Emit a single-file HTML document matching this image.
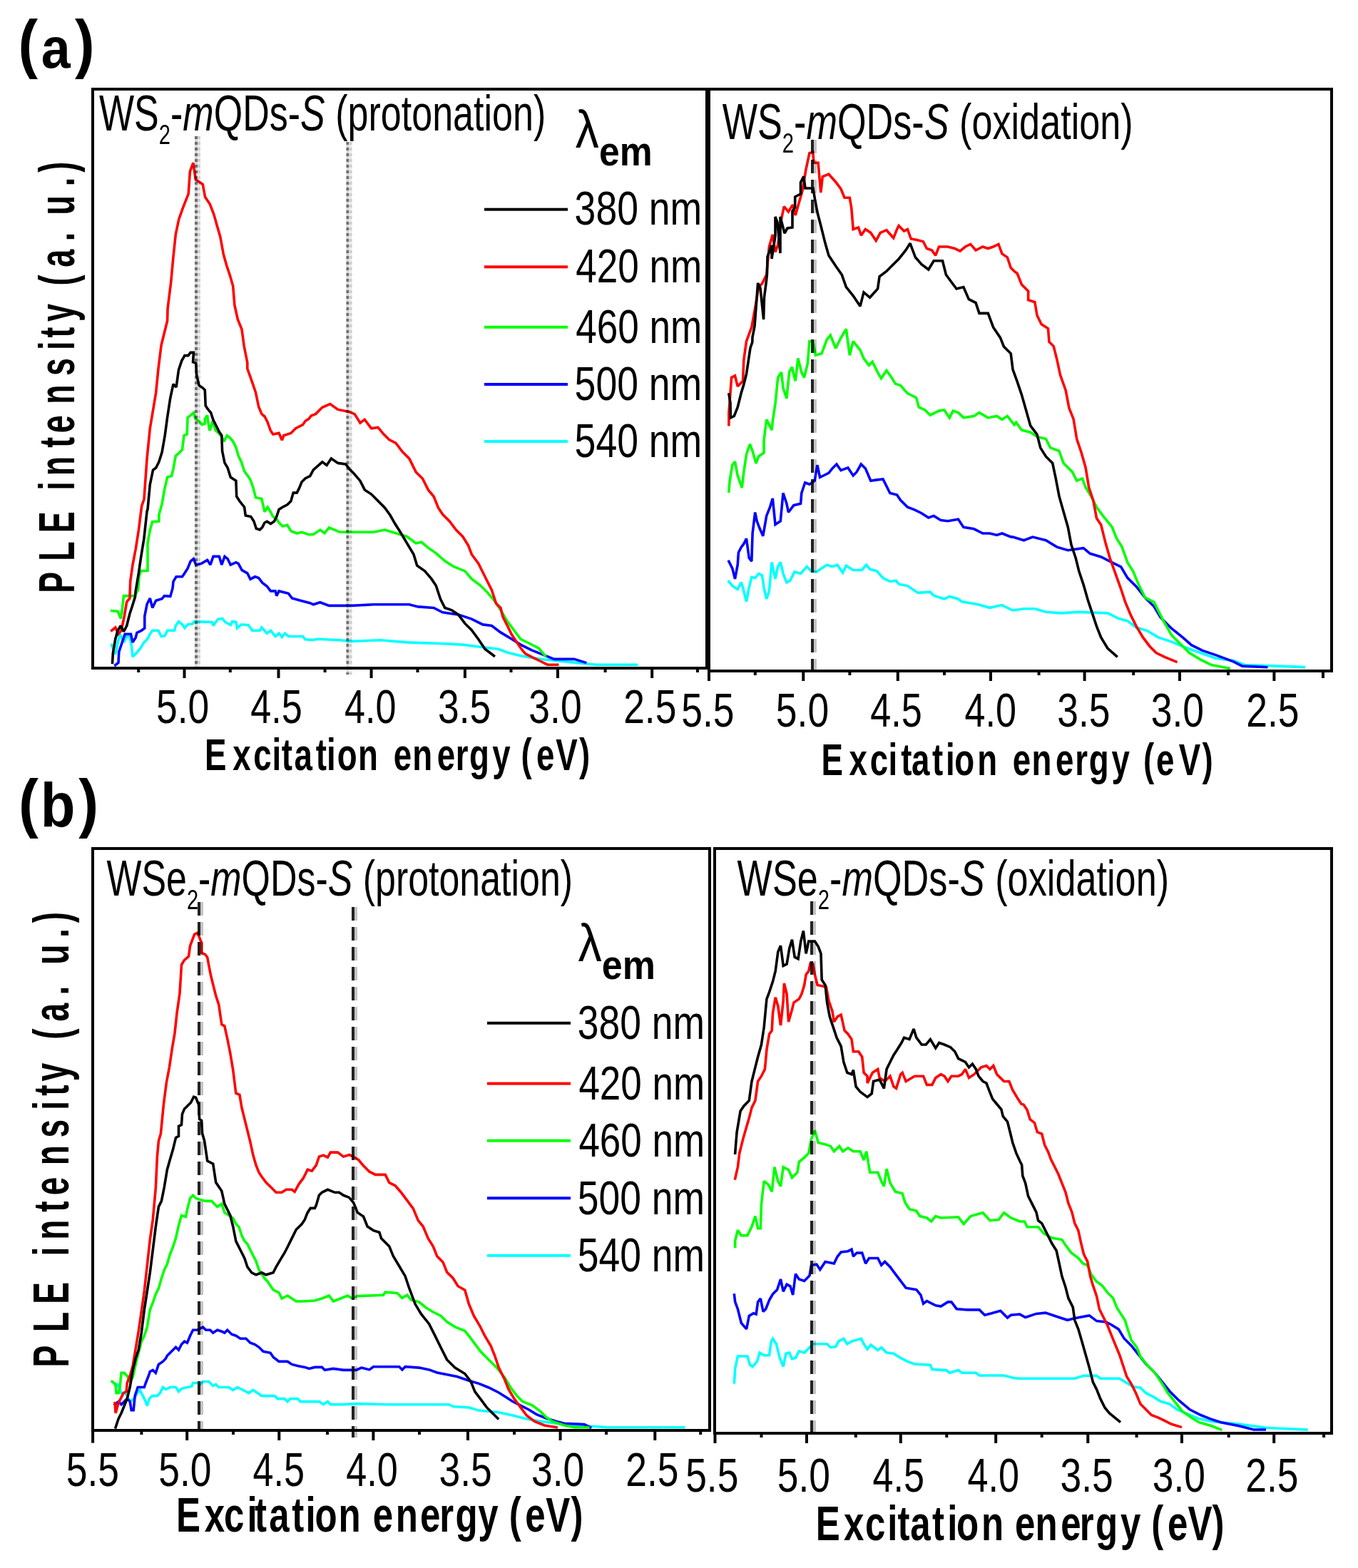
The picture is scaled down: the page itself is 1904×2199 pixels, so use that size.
<!DOCTYPE html><html><head><meta charset='utf-8'><title>PLE spectra</title><style>html,body{margin:0;padding:0;background:#fff;overflow:hidden}svg{display:block}</style></head><body><svg width='1904' height='2199' viewBox='0 0 1904 2199'>
<rect x='0' y='0' width='1904' height='2199' fill='#fff'/>
<polyline points='156.7,904.3 158.4,909.3 161.8,917.6 165.1,900.9 168.5,889.2 173.5,900.9 177.7,892.5 181.9,892.5 184.4,905.9 186.0,921.0 191.1,916.0 196.9,909.3 201.9,900.9 207.0,895.9 210.3,889.2 213.7,884.2 222.0,884.2 226.2,892.5 231.2,891.7 234.6,884.2 244.6,884.2 246.3,877.5 250.5,871.6 255.5,875.8 258.9,880.8 263.1,875.8 269.8,875.0 272.3,871.6 297.4,872.4 299.0,877.5 305.7,868.3 311.6,867.4 315.8,872.4 323.3,876.6 325.8,871.6 330.9,872.4 332.5,880.8 338.4,875.8 348.4,876.6 353.5,884.2 364.3,884.2 366.9,880.0 374.4,888.3 379.4,884.2 386.1,892.5 391.1,888.3 395.3,893.4 399.5,888.3 404.5,892.5 424.6,892.5 428.0,896.7 438.0,897.5 445.6,896.3 476.9,897.8 492.5,899.4 533.1,897.8 570.6,900.9 617.5,902.5 648.8,904.1 673.8,907.2 698.8,910.3 711.3,915.0 730.0,919.7 758.1,924.4 805.0,929.1 836.3,932.2 892.5,932.2' fill='none' stroke='#00ffff' stroke-width='3.6' stroke-linejoin='miter' stroke-miterlimit='2' stroke-linecap='square'/>
<polyline points='161.8,932.7 166.0,929.4 166.8,914.3 170.1,904.3 175.2,889.2 183.5,889.2 186.0,900.9 190.2,894.2 191.9,887.5 198.6,884.2 202.8,880.8 202.8,864.1 206.1,847.3 210.3,839.0 213.7,852.4 218.7,842.3 227.1,839.8 230.4,835.6 238.8,836.4 242.1,824.7 243.0,815.5 247.1,808.8 255.5,808.8 258.9,803.8 263.1,797.1 267.2,787.1 271.4,783.7 274.8,792.1 282.3,790.4 290.7,785.4 294.9,792.1 299.0,780.4 307.4,780.4 310.8,792.1 315.0,780.4 319.1,783.7 323.3,792.1 330.9,788.7 334.2,790.4 339.2,799.6 346.8,803.8 351.0,812.2 357.6,808.8 362.7,810.5 367.7,817.2 374.4,822.2 379.4,828.9 386.1,828.9 387.8,835.6 391.1,828.9 404.5,832.3 409.5,839.0 421.3,842.3 434.7,845.7 439.4,847.8 448.8,844.7 461.3,849.4 492.5,849.4 523.8,847.8 555.0,847.8 573.8,847.8 586.3,850.9 608.1,852.5 620.6,858.8 642.5,861.9 661.3,868.1 676.9,875.9 689.4,877.5 701.9,886.9 717.5,896.3 730.0,904.1 745.6,911.9 761.3,918.1 776.9,924.4 805.0,924.4 820.6,929.1' fill='none' stroke='#0000ff' stroke-width='3.6' stroke-linejoin='miter' stroke-miterlimit='2' stroke-linecap='square'/>
<polyline points='156.7,856.5 165.1,857.4 169.3,867.4 171.0,857.4 173.5,835.6 180.2,835.6 188.6,835.6 193.6,827.2 195.2,807.1 197.8,800.5 207.0,800.5 207.0,761.9 210.3,743.5 213.7,731.8 222.9,731.0 222.9,721.8 227.1,706.7 230.4,687.7 234.6,669.3 240.5,667.6 243.0,657.6 246.3,639.2 250.5,635.8 255.5,630.8 258.0,610.7 262.2,609.0 263.1,585.6 267.2,582.3 271.4,578.9 273.9,587.3 279.0,590.6 283.1,595.7 287.3,594.0 287.3,587.3 290.7,582.3 291.5,590.6 294.0,604.0 298.2,590.6 302.4,604.0 306.6,607.4 310.8,612.4 314.1,619.1 318.3,610.7 322.5,614.1 326.7,619.1 330.9,627.5 334.2,639.2 338.4,647.6 342.6,661.0 347.6,667.6 351.0,672.7 355.1,684.4 358.5,697.8 366.9,699.5 371.0,717.9 375.2,711.2 379.4,717.9 382.8,724.6 387.8,727.9 391.1,732.9 396.2,738.0 402.8,736.3 407.9,744.7 416.2,748.0 422.9,746.3 433.0,749.7 439.4,749.4 448.8,743.1 455.0,747.8 461.3,740.0 476.9,746.3 505.0,746.3 523.8,746.3 539.4,743.1 555.0,747.8 570.6,752.5 583.1,761.9 590.9,760.3 600.3,768.1 611.3,775.9 623.8,786.9 636.3,794.7 651.9,800.9 661.3,811.9 673.8,821.3 683.1,830.6 692.5,841.6 701.9,855.6 711.3,871.3 720.6,883.8 730.0,896.3 742.5,902.5 755.0,908.8 764.4,919.7' fill='none' stroke='#00ff00' stroke-width='3.6' stroke-linejoin='miter' stroke-miterlimit='2' stroke-linecap='square'/>
<polyline points='156.7,884.2 161.8,880.0 166.0,889.2 170.1,884.2 174.3,864.1 177.7,844.0 181.9,839.0 182.7,815.5 186.0,792.1 190.2,770.3 194.4,743.5 198.6,710.0 202.0,700.0 206.1,642.5 210.3,600.7 214.5,575.6 218.7,550.5 222.0,517.0 226.2,483.5 230.4,466.7 234.6,450.0 235.1,432.5 239.6,396.8 243.0,360.0 246.3,328.7 250.8,307.5 256.3,291.9 264.2,271.8 266.4,240.5 270.9,228.3 274.2,251.7 284.2,258.4 287.6,276.3 294.3,286.3 299.9,300.8 304.3,316.4 308.8,332.0 313.3,356.6 317.7,372.2 322.2,385.6 326.7,401.3 328.9,428.0 333.4,448.1 338.9,461.5 342.3,486.0 346.8,508.4 346.8,517.0 351.0,528.7 355.1,540.4 358.5,550.5 362.7,570.5 366.9,580.6 371.0,584.0 375.2,592.3 379.4,604.0 382.8,609.0 391.1,607.4 395.3,617.4 397.8,610.7 407.9,607.4 414.6,600.7 424.6,595.7 428.0,590.6 433.0,587.3 436.3,583.1 442.5,580.6 451.9,571.3 462.8,566.6 473.8,574.4 489.4,577.5 497.2,580.6 505.0,593.1 511.3,588.4 520.6,600.9 530.0,599.4 537.8,608.8 545.6,616.6 555.0,621.3 564.4,633.8 573.8,643.1 583.1,661.9 592.5,671.3 600.3,686.9 608.1,696.3 614.4,711.9 620.6,721.3 630.0,730.6 639.4,743.1 648.8,752.5 656.6,765.0 661.3,777.5 670.6,790.0 676.9,802.5 683.1,815.0 689.4,827.5 695.6,846.3 701.9,852.5 705.0,865.0 711.3,877.5 717.5,890.0 723.8,899.4 730.0,908.8 736.3,916.6 745.6,921.3 758.1,927.5 767.5,932.2 781.6,932.2' fill='none' stroke='#ff0000' stroke-width='3.6' stroke-linejoin='miter' stroke-miterlimit='2' stroke-linecap='square'/>
<polyline points='157.6,929.4 158.4,916.0 161.8,895.9 165.1,884.2 169.3,877.5 173.5,885.8 177.7,877.5 181.9,860.7 185.2,850.7 189.4,837.3 190.2,828.9 194.4,803.8 197.8,780.4 201.9,755.2 206.1,716.7 207.0,714.5 210.3,679.4 214.5,659.3 218.7,656.0 222.9,647.6 227.1,634.2 231.2,610.7 234.6,585.6 238.8,558.0 243.0,538.7 247.1,542.9 250.5,518.6 254.7,506.1 258.9,498.6 263.9,498.6 267.2,494.4 271.4,494.4 270.6,507.8 274.8,509.4 275.6,525.3 279.0,540.4 284.0,543.8 287.3,547.1 288.2,568.9 291.5,573.9 295.7,578.9 299.0,589.0 303.2,597.3 307.4,605.7 310.8,610.7 311.6,632.5 315.0,649.2 319.1,655.9 323.3,669.3 330.9,674.3 331.7,696.1 335.9,702.8 342.6,711.2 344.3,722.9 351.8,724.6 356.0,731.3 359.3,741.3 364.3,743.0 367.7,739.6 371.0,733.0 374.4,731.3 379.4,734.6 384.4,731.3 387.8,724.6 391.1,714.5 396.2,711.2 402.8,707.8 407.9,702.8 411.2,691.1 416.2,691.1 419.6,684.4 423.0,676.0 428.0,671.0 434.7,667.6 439.4,658.8 451.9,647.8 458.1,652.5 464.4,643.1 473.8,649.4 484.7,650.9 489.4,657.2 495.6,663.4 505.0,674.4 511.3,686.9 520.6,693.1 530.0,702.5 539.4,711.9 547.2,722.8 553.4,733.8 561.3,746.3 570.6,761.9 580.0,777.5 584.7,793.1 595.6,800.9 605.0,811.9 611.3,821.3 617.5,840.0 623.8,852.5 633.1,855.6 642.5,861.9 651.9,874.4 661.3,883.8 670.6,896.3 680.0,910.3 692.5,919.7' fill='none' stroke='#000000' stroke-width='3.6' stroke-linejoin='miter' stroke-miterlimit='2' stroke-linecap='square'/>
<polyline points='1021.9,815.5 1026.8,821.6 1034.2,826.5 1039.1,816.7 1041.6,824.1 1046.5,843.7 1050.2,824.1 1053.8,809.4 1058.7,810.6 1063.7,804.4 1068.6,806.9 1071.0,824.1 1074.7,840.0 1078.4,829.0 1082.1,788.5 1087.0,811.8 1090.7,794.6 1094.3,788.5 1098.0,804.4 1102.9,816.7 1107.8,814.3 1114.0,802.0 1122.6,804.4 1131.2,794.6 1137.3,800.8 1144.7,802.0 1152.0,797.1 1159.4,792.2 1166.8,794.6 1174.1,792.2 1181.5,803.2 1186.4,793.4 1196.2,799.5 1208.5,799.5 1214.7,792.2 1219.6,798.3 1229.4,800.8 1238.0,810.6 1247.8,815.5 1256.4,814.3 1260.1,819.2 1272.4,821.6 1287.1,831.4 1304.3,830.2 1309.2,835.1 1323.9,840.0 1331.3,836.4 1343.5,840.0 1348.5,843.7 1370.5,847.4 1387.7,852.3 1404.9,848.6 1419.7,856.0 1435.5,853.7 1450.9,853.7 1466.4,858.3 1488.0,859.9 1512.8,858.3 1553.0,859.9 1568.5,867.6 1580.8,870.7 1593.2,880.0 1608.7,884.6 1624.1,893.9 1642.7,900.1 1661.3,907.8 1682.9,915.5 1704.6,923.3 1729.3,926.4 1744.8,932.5 1791.2,934.1 1828.3,935.6' fill='none' stroke='#00ffff' stroke-width='3.6' stroke-linejoin='miter' stroke-miterlimit='2' stroke-linecap='square'/>
<polyline points='1021.9,787.3 1026.8,797.1 1030.5,811.8 1034.2,792.2 1035.4,775.0 1039.1,767.6 1042.8,762.7 1046.5,755.3 1050.2,782.4 1053.8,787.3 1055.1,748.0 1058.7,718.5 1061.2,730.8 1064.9,740.6 1069.8,751.7 1074.7,723.4 1079.6,711.1 1083.3,698.9 1087.0,735.7 1094.3,730.8 1098.0,691.5 1102.9,706.2 1105.4,718.5 1112.8,708.7 1122.6,706.2 1123.8,691.5 1128.7,676.8 1134.9,679.2 1142.2,674.3 1145.9,652.2 1149.6,669.4 1154.5,667.0 1161.9,663.3 1166.8,657.1 1172.9,651.0 1179.0,659.6 1188.9,655.9 1196.2,667.0 1201.1,662.0 1207.3,651.0 1213.4,657.1 1220.8,674.3 1228.2,673.1 1238.0,671.9 1242.9,681.7 1247.8,691.5 1257.6,694.0 1262.5,701.3 1272.4,711.1 1282.2,714.8 1292.0,719.7 1301.8,725.9 1309.2,723.4 1319.0,729.6 1328.8,730.8 1343.5,728.3 1350.9,739.4 1365.6,741.8 1377.9,748.0 1387.7,748.0 1397.6,750.4 1404.9,748.0 1417.2,752.9 1420.0,753.1 1435.5,757.8 1447.8,753.1 1466.4,757.8 1481.9,767.1 1497.3,771.7 1519.0,768.6 1528.3,776.3 1543.7,781.0 1562.3,790.3 1571.6,794.9 1580.8,810.4 1593.2,822.7 1605.6,838.2 1618.0,850.6 1627.2,866.0 1642.7,881.5 1658.2,893.9 1670.5,904.7 1686.0,912.4 1704.6,918.6 1729.3,927.9 1741.7,934.1 1775.7,935.6' fill='none' stroke='#0000ff' stroke-width='3.6' stroke-linejoin='miter' stroke-miterlimit='2' stroke-linecap='square'/>
<polyline points='1021.9,689.0 1023.1,674.3 1026.8,652.2 1030.5,647.3 1034.2,667.0 1040.3,684.1 1042.8,662.0 1046.5,637.5 1051.4,622.8 1055.1,632.6 1060.0,649.8 1063.7,640.0 1071.0,635.0 1071.0,617.8 1074.7,588.4 1082.1,603.1 1083.3,590.8 1087.0,566.3 1090.7,529.5 1095.6,522.1 1098.0,544.2 1102.9,558.9 1106.6,522.1 1110.3,514.7 1115.2,534.4 1118.9,502.5 1123.8,522.1 1127.5,529.5 1132.4,509.8 1134.9,478.6 1139.8,478.6 1143.5,498.3 1152.0,495.8 1159.4,476.2 1164.3,470.0 1171.7,488.5 1179.0,473.7 1186.4,461.5 1191.3,498.3 1196.2,478.6 1206.0,490.9 1211.0,502.5 1218.3,512.3 1223.2,507.4 1231.8,524.6 1235.5,530.7 1242.9,519.6 1250.2,529.5 1255.2,538.1 1262.5,540.5 1272.4,551.6 1284.6,557.7 1288.3,571.2 1296.9,574.9 1304.3,582.2 1316.5,576.1 1323.9,574.9 1331.3,585.9 1336.2,576.1 1343.5,578.6 1350.9,585.9 1365.6,583.5 1372.9,578.6 1385.3,585.9 1397.6,583.5 1404.9,588.4 1412.3,583.5 1422.1,595.8 1424.6,592.3 1432.4,603.1 1444.7,606.2 1454.0,612.4 1466.4,615.5 1472.6,627.9 1485.0,632.5 1491.1,649.5 1503.5,661.9 1509.7,674.3 1517.4,671.2 1522.1,683.5 1529.8,695.9 1537.5,711.4 1546.8,723.8 1559.2,739.2 1565.4,754.7 1573.1,767.1 1580.8,788.7 1588.6,801.1 1596.3,819.6 1605.6,838.2 1618.0,844.4 1630.3,869.1 1642.7,890.8 1655.1,903.2 1667.4,915.5 1682.9,924.8 1698.4,932.5 1723.1,937.2' fill='none' stroke='#00ff00' stroke-width='3.6' stroke-linejoin='miter' stroke-miterlimit='2' stroke-linecap='square'/>
<polyline points='1021.9,595.8 1021.9,578.6 1025.6,529.5 1030.5,527.0 1034.2,541.7 1041.6,534.4 1042.8,504.9 1046.5,478.6 1053.8,459.0 1058.7,432.0 1063.7,402.5 1068.6,397.6 1074.7,385.3 1078.4,346.0 1083.3,328.9 1087.0,353.4 1090.7,343.6 1095.6,306.8 1099.3,289.6 1105.4,297.0 1111.5,287.1 1115.2,301.9 1120.1,284.7 1125.0,267.5 1129.9,238.0 1134.9,214.7 1139.8,213.5 1141.0,228.2 1147.1,228.2 1150.8,270.0 1153.3,247.8 1161.9,244.2 1171.7,255.2 1179.0,265.0 1184.0,277.3 1191.3,277.3 1193.8,292.0 1196.2,321.5 1203.6,319.0 1207.3,330.1 1213.4,321.5 1220.8,326.4 1228.2,337.5 1234.3,326.4 1242.9,322.7 1252.7,333.8 1257.6,321.5 1260.1,316.6 1267.4,324.0 1272.4,321.5 1277.3,335.0 1284.6,336.2 1294.4,338.7 1299.4,348.5 1306.7,351.0 1311.6,358.3 1316.5,346.0 1328.8,346.0 1338.6,348.5 1346.0,352.2 1353.4,346.0 1360.7,342.4 1368.1,351.0 1377.9,346.0 1385.3,348.5 1392.6,346.0 1400.0,342.4 1404.9,355.9 1412.3,360.8 1417.2,375.5 1422.1,380.4 1426.2,383.5 1432.4,399.0 1441.7,408.3 1441.7,420.6 1450.9,423.7 1454.0,442.3 1460.2,454.7 1469.5,460.8 1471.0,479.4 1477.2,485.6 1481.9,504.1 1486.5,525.8 1494.2,547.4 1498.9,572.2 1505.1,587.7 1509.7,615.5 1515.9,634.0 1522.1,655.7 1526.7,683.5 1532.9,702.1 1537.5,726.8 1543.7,736.1 1549.9,760.9 1556.1,782.5 1563.8,804.2 1571.6,825.8 1577.7,844.4 1585.5,862.9 1593.2,878.4 1602.5,893.9 1611.8,906.2 1621.0,915.5 1633.4,921.7 1648.9,927.9' fill='none' stroke='#ff0000' stroke-width='3.6' stroke-linejoin='miter' stroke-miterlimit='2' stroke-linecap='square'/>
<polyline points='1022.0,553.0 1024.0,565.0 1024.4,585.9 1029.3,583.5 1034.2,571.2 1039.1,551.6 1042.8,539.3 1046.5,524.6 1050.2,500.0 1052.0,488.0 1054.8,480.0 1055.0,473.0 1058.0,457.6 1062.6,397.0 1066.0,404.0 1070.6,448.0 1071.5,417.0 1074.6,393.0 1075.5,384.0 1076.0,360.0 1082.0,344.0 1082.0,363.0 1087.0,331.0 1087.0,304.0 1090.0,312.0 1094.0,355.0 1094.0,304.0 1100.0,327.0 1104.0,320.0 1111.0,319.0 1111.0,296.0 1114.7,291.0 1114.7,276.0 1122.5,272.0 1122.5,256.0 1126.8,247.4 1129.0,264.0 1140.0,264.0 1142.5,279.0 1146.3,299.0 1150.5,315.0 1157.0,341.1 1161.9,358.3 1171.7,373.1 1180.3,385.3 1186.4,402.5 1196.2,414.8 1206.0,429.5 1211.0,409.9 1219.6,417.3 1230.6,405.0 1233.1,387.8 1242.9,380.4 1250.2,373.1 1260.1,363.2 1269.9,351.0 1276.0,341.1 1283.4,360.8 1292.0,370.6 1301.8,378.0 1309.2,365.7 1321.5,365.7 1326.4,385.3 1333.7,395.2 1341.1,405.0 1350.9,402.5 1358.3,419.7 1368.1,424.6 1373.0,439.4 1385.3,439.4 1392.6,459.0 1402.5,473.7 1407.4,486.0 1417.2,495.8 1420.0,518.1 1426.2,535.1 1432.4,553.6 1438.6,575.3 1444.7,596.9 1454.0,609.3 1458.7,627.9 1466.4,640.2 1475.7,649.5 1480.3,671.2 1485.0,695.9 1491.1,717.6 1497.3,739.2 1502.0,764.0 1508.2,782.5 1512.8,801.1 1519.0,819.6 1525.2,841.3 1531.4,859.9 1537.5,878.4 1543.7,893.9 1553.0,909.3 1565.4,920.2' fill='none' stroke='#000000' stroke-width='3.6' stroke-linejoin='miter' stroke-miterlimit='2' stroke-linecap='square'/>
<polyline points='161.1,1941.5 165.1,1941.5 170.1,1953.6 176.2,1953.6 179.2,1959.6 182.2,1965.6 188.2,1961.6 192.2,1953.6 196.2,1949.5 200.3,1957.6 204.3,1965.6 206.3,1971.6 209.3,1961.6 213.3,1957.6 220.4,1957.6 224.4,1953.6 228.4,1945.5 232.4,1948.5 238.4,1945.5 246.5,1945.5 250.5,1951.6 254.5,1947.5 262.5,1945.5 268.6,1944.5 270.6,1939.5 276.6,1939.5 280.6,1941.5 284.6,1937.5 292.7,1937.5 298.7,1943.5 302.7,1941.5 306.7,1945.5 320.8,1945.5 326.8,1949.5 332.9,1945.5 340.9,1949.5 348.9,1953.6 354.9,1949.5 361.0,1953.6 367.0,1957.6 385.1,1957.6 389.1,1961.6 399.1,1961.6 403.2,1965.6 407.2,1961.6 417.2,1961.6 421.2,1965.6 447.4,1965.6 453.4,1969.6 459.4,1965.6 463.4,1969.6 481.5,1969.6 499.6,1968.6 545.8,1969.7 629.5,1969.7 635.1,1972.5 657.4,1973.9 671.4,1978.1 699.3,1980.8 718.8,1985.0 735.5,1989.2 757.9,1993.4 780.2,1996.2 810.9,1999.0 852.7,2001.8 958.7,2001.8' fill='none' stroke='#00ffff' stroke-width='3.6' stroke-linejoin='miter' stroke-miterlimit='2' stroke-linecap='square'/>
<polyline points='161.1,1969.6 166.1,1965.6 170.1,1969.6 174.2,1965.6 178.2,1961.6 182.2,1965.6 184.2,1977.7 187.2,1977.7 189.2,1957.6 193.2,1945.5 202.3,1945.5 204.3,1939.5 208.3,1929.5 210.3,1923.4 214.3,1921.4 218.3,1925.4 222.4,1913.4 228.4,1909.4 232.4,1905.3 234.4,1901.3 238.4,1897.3 246.5,1889.3 250.5,1893.3 254.5,1885.3 258.5,1881.2 262.5,1883.2 266.6,1873.2 270.6,1865.2 276.6,1865.2 284.6,1861.2 288.7,1865.2 294.7,1865.2 298.7,1869.2 304.7,1865.2 310.8,1867.2 314.8,1869.2 318.8,1865.2 324.8,1871.2 330.8,1873.2 336.9,1877.2 344.9,1877.2 350.9,1883.2 357.0,1885.3 363.0,1889.3 369.0,1895.3 379.1,1897.3 383.1,1903.3 391.1,1909.4 403.2,1909.4 409.2,1913.4 417.2,1915.4 427.3,1917.4 433.3,1919.4 441.3,1917.4 451.4,1917.4 455.4,1921.4 467.4,1919.4 481.5,1921.4 499.6,1921.4 506.7,1918.1 517.9,1920.9 523.5,1916.7 559.8,1916.7 563.9,1920.9 568.1,1916.7 587.7,1918.1 601.6,1920.9 612.8,1925.0 626.7,1927.8 640.7,1930.6 657.4,1936.2 671.4,1940.4 685.3,1946.0 699.3,1953.0 710.4,1959.9 718.8,1965.5 730.0,1971.1 741.1,1976.7 752.3,1983.6 766.2,1989.2 780.2,1993.4 791.3,1996.2 819.2,1997.6 827.6,2001.8' fill='none' stroke='#0000ff' stroke-width='3.6' stroke-linejoin='miter' stroke-miterlimit='2' stroke-linecap='square'/>
<polyline points='157.1,1937.5 162.1,1941.5 163.1,1953.6 166.1,1953.6 168.1,1945.5 170.1,1925.4 174.2,1925.4 178.2,1929.5 182.2,1937.5 186.2,1931.5 190.2,1913.4 194.2,1897.3 198.3,1881.2 202.3,1873.2 206.3,1861.2 210.3,1837.0 214.3,1827.0 218.3,1815.0 222.4,1806.9 226.4,1792.8 230.4,1780.8 234.4,1772.8 238.4,1758.7 242.5,1748.7 246.5,1736.6 250.5,1718.5 254.5,1704.5 260.5,1706.5 262.5,1696.4 266.6,1680.4 270.6,1676.3 274.6,1680.4 280.6,1682.4 288.7,1684.4 296.7,1684.4 300.7,1688.4 304.7,1692.4 310.8,1688.4 314.8,1700.4 320.8,1704.5 326.8,1708.5 330.8,1716.5 334.9,1720.5 338.9,1732.6 342.9,1740.6 346.9,1744.6 350.9,1752.7 354.9,1760.7 359.0,1768.7 363.0,1780.8 367.0,1786.8 371.0,1792.8 375.0,1796.9 379.1,1802.9 383.1,1808.9 391.1,1812.9 395.1,1821.0 403.2,1817.0 409.2,1821.0 415.2,1825.0 425.3,1825.0 441.3,1824.0 451.4,1821.0 461.4,1817.0 467.4,1825.0 477.5,1821.0 487.5,1817.0 493.6,1821.0 501.2,1817.6 537.4,1816.2 540.2,1812.1 557.0,1813.5 563.9,1820.4 570.9,1816.2 576.5,1823.2 587.7,1826.0 596.0,1833.0 607.2,1840.0 618.3,1845.5 626.7,1853.9 637.9,1860.9 651.8,1866.5 657.4,1873.4 665.8,1884.6 674.2,1895.8 685.3,1906.9 696.5,1918.1 707.6,1932.0 716.0,1946.0 724.4,1957.1 732.7,1965.5 746.7,1971.1 757.9,1979.5 766.2,1987.8 774.6,1993.4 791.3,1999.0 805.3,2001.8 824.8,2001.8' fill='none' stroke='#00ff00' stroke-width='3.6' stroke-linejoin='miter' stroke-miterlimit='2' stroke-linecap='square'/>
<polyline points='161.1,1967.6 162.1,1981.7 166.1,1967.6 173.1,1953.6 177.2,1951.6 178.2,1939.5 182.2,1929.5 186.2,1915.4 190.2,1891.3 194.2,1867.2 198.3,1839.0 202.3,1810.9 206.3,1774.8 210.3,1738.6 214.3,1710.5 218.3,1666.3 220.4,1622.1 222.4,1600.0 225.4,1590.0 229.4,1549.0 233.4,1518.0 237.4,1497.0 241.4,1470.0 245.0,1449.0 248.0,1421.0 252.0,1393.0 254.5,1353.0 258.5,1346.4 264.5,1341.4 266.6,1326.3 269.6,1318.3 272.6,1310.3 276.6,1308.3 278.6,1312.3 282.6,1322.3 282.6,1336.4 287.6,1338.4 290.7,1342.4 292.7,1353.5 295.7,1368.5 299.7,1384.6 302.7,1396.6 306.7,1408.7 310.8,1436.8 314.8,1438.8 318.8,1456.9 322.8,1477.0 326.8,1501.1 330.8,1533.2 335.9,1535.3 338.9,1553.3 342.9,1569.4 346.9,1585.5 350.9,1601.6 354.9,1620.1 359.0,1634.2 363.0,1644.2 367.0,1650.2 373.0,1658.3 381.1,1666.3 387.1,1672.3 395.1,1672.3 401.2,1668.3 409.2,1668.3 413.2,1671.3 419.2,1660.3 425.3,1652.2 431.3,1640.2 437.3,1642.2 443.3,1634.2 447.4,1622.1 453.4,1620.1 459.4,1623.1 463.4,1616.1 473.5,1616.1 481.5,1622.1 490.0,1619.5 502.6,1626.5 509.5,1634.9 517.9,1643.2 526.3,1647.4 540.2,1647.4 545.8,1658.6 554.2,1662.8 562.5,1672.5 570.9,1683.7 579.3,1694.9 586.3,1711.6 593.2,1720.0 600.2,1736.7 607.2,1747.9 612.8,1761.8 621.1,1770.2 626.7,1784.2 635.1,1792.5 642.1,1803.7 651.8,1809.3 657.4,1828.8 664.4,1845.5 672.8,1859.5 679.7,1873.4 688.1,1887.4 693.7,1901.3 699.3,1918.1 707.6,1934.8 713.2,1948.8 721.6,1962.7 730.0,1973.9 738.3,1985.0 749.5,1993.4 763.4,1999.0 780.2,2001.8' fill='none' stroke='#ff0000' stroke-width='3.6' stroke-linejoin='miter' stroke-miterlimit='2' stroke-linecap='square'/>
<polyline points='162.1,2001.8 166.1,1989.7 170.1,1981.7 174.2,1971.6 178.2,1961.6 182.2,1945.5 186.2,1921.4 190.2,1905.3 194.2,1893.3 198.3,1869.2 202.3,1837.0 206.3,1810.9 210.3,1784.8 214.3,1752.7 218.3,1720.5 222.4,1692.4 226.4,1684.4 230.4,1664.3 234.4,1640.2 238.4,1626.1 242.5,1612.1 246.5,1595.5 250.5,1593.5 250.5,1579.4 254.5,1577.4 255.5,1562.4 258.5,1555.3 262.5,1551.3 267.6,1546.3 271.6,1538.3 274.6,1539.3 278.6,1549.3 279.6,1569.4 282.6,1571.4 283.6,1589.5 286.6,1600.0 290.7,1628.1 298.7,1632.1 302.7,1658.3 310.8,1670.3 314.8,1688.4 322.8,1704.5 326.8,1720.5 330.8,1740.6 338.9,1756.7 342.9,1764.7 346.9,1776.8 352.9,1784.8 359.0,1787.8 367.0,1784.8 373.0,1787.8 383.1,1784.8 387.1,1776.8 393.1,1766.7 399.1,1756.7 403.2,1748.7 407.2,1740.6 411.2,1732.6 415.2,1724.5 419.2,1720.5 423.2,1716.5 427.3,1710.5 431.3,1700.4 435.3,1694.4 441.3,1694.4 443.3,1690.4 447.4,1676.3 451.4,1672.3 459.4,1668.3 469.4,1672.3 475.5,1672.3 481.5,1676.3 489.5,1679.4 495.6,1686.5 501.2,1700.4 509.5,1706.0 515.1,1720.0 523.5,1725.6 531.9,1728.3 534.6,1736.7 545.8,1747.9 551.4,1761.8 559.8,1775.8 568.1,1789.7 573.7,1806.5 582.1,1828.8 590.4,1842.7 601.6,1856.7 610.0,1873.4 618.3,1890.2 626.7,1906.9 637.9,1918.1 651.8,1926.5 660.2,1937.6 665.8,1951.6 674.2,1962.7 682.5,1973.9 690.9,1982.3 697.9,1989.2' fill='none' stroke='#000000' stroke-width='3.6' stroke-linejoin='miter' stroke-miterlimit='2' stroke-linecap='square'/>
<polyline points='1029.5,1938.8 1030.7,1919.2 1034.4,1902.0 1047.9,1902.0 1051.6,1914.3 1055.2,1916.7 1061.4,1909.4 1065.1,1897.1 1071.2,1900.8 1078.6,1900.8 1081.0,1882.3 1083.5,1877.4 1088.4,1884.8 1093.3,1904.4 1098.2,1916.7 1101.9,1898.3 1106.8,1897.1 1110.5,1905.7 1115.4,1904.4 1120.3,1894.6 1127.7,1897.1 1133.8,1890.9 1139.9,1884.8 1159.6,1884.8 1164.5,1889.7 1171.9,1888.5 1175.5,1881.1 1182.9,1877.4 1187.8,1884.8 1194.0,1881.1 1207.5,1877.4 1211.1,1884.8 1216.1,1892.2 1221.0,1886.0 1230.8,1893.4 1235.7,1889.7 1243.1,1897.1 1252.9,1898.3 1262.7,1904.4 1272.5,1909.4 1282.3,1913.0 1304.4,1914.3 1306.9,1920.4 1326.5,1921.6 1331.5,1925.3 1343.7,1921.6 1348.6,1925.3 1368.3,1925.3 1373.2,1929.0 1407.6,1929.0 1422.3,1932.7 1430.0,1933.3 1468.4,1933.3 1506.8,1933.3 1519.6,1929.4 1537.6,1929.4 1542.7,1933.3 1569.6,1933.3 1576.0,1937.1 1588.8,1944.8 1599.0,1946.1 1606.7,1953.7 1616.9,1958.9 1627.2,1965.3 1640.0,1969.1 1650.2,1976.8 1665.6,1983.2 1681.0,1989.6 1698.9,1993.4 1737.3,1997.3 1775.7,2002.4 1832.0,2005.0' fill='none' stroke='#00ffff' stroke-width='3.6' stroke-linejoin='miter' stroke-miterlimit='2' stroke-linecap='square'/>
<polyline points='1029.5,1816.1 1030.7,1825.9 1034.4,1835.7 1039.3,1855.3 1046.6,1863.9 1050.3,1845.5 1056.5,1841.8 1060.2,1843.1 1062.6,1825.9 1066.3,1821.0 1070.0,1839.4 1073.7,1835.7 1078.6,1823.4 1083.5,1814.8 1089.6,1808.7 1094.5,1794.0 1098.2,1811.1 1103.1,1801.3 1108.0,1803.8 1111.7,1816.1 1115.4,1786.6 1120.3,1794.0 1127.7,1796.4 1135.0,1789.0 1137.5,1774.3 1144.9,1773.1 1149.8,1780.5 1157.1,1769.4 1169.4,1771.9 1174.3,1762.0 1179.2,1755.9 1189.0,1754.7 1194.0,1752.2 1196.4,1762.0 1201.3,1757.1 1208.7,1757.1 1213.6,1771.9 1218.5,1764.5 1230.8,1764.5 1235.7,1774.3 1240.6,1769.4 1248.0,1776.8 1255.3,1786.6 1262.7,1796.4 1270.1,1806.2 1284.8,1808.7 1290.9,1816.1 1294.6,1828.3 1299.5,1824.6 1311.8,1830.8 1319.2,1832.0 1329.0,1825.9 1333.9,1825.9 1341.3,1835.7 1356.0,1836.9 1373.2,1836.9 1380.6,1844.3 1390.4,1841.8 1402.7,1838.2 1412.5,1848.0 1417.4,1844.3 1429.7,1843.1 1437.7,1847.5 1453.0,1842.4 1465.9,1841.1 1481.2,1846.2 1496.6,1851.3 1506.8,1848.8 1527.3,1844.9 1537.6,1852.6 1550.4,1853.9 1558.0,1857.7 1568.3,1864.1 1576.0,1876.9 1586.2,1887.2 1596.5,1900.0 1606.7,1912.8 1619.5,1925.6 1629.7,1938.4 1640.0,1951.2 1652.8,1964.0 1668.2,1976.8 1683.5,1984.5 1696.3,1989.6 1711.7,1994.7 1737.3,1999.8 1757.8,2005.0 1773.2,2005.0' fill='none' stroke='#0000ff' stroke-width='3.6' stroke-linejoin='miter' stroke-miterlimit='2' stroke-linecap='square'/>
<polyline points='1030.7,1748.5 1030.7,1740.0 1034.4,1725.2 1039.3,1732.6 1047.9,1732.6 1054.0,1720.3 1058.9,1705.6 1062.6,1722.8 1066.3,1722.8 1067.5,1688.4 1071.2,1656.5 1077.3,1661.4 1082.2,1671.2 1085.9,1636.8 1090.8,1656.5 1094.5,1663.8 1098.2,1636.8 1105.6,1640.5 1110.5,1651.6 1117.9,1644.2 1120.3,1629.5 1127.7,1623.3 1133.8,1617.2 1137.5,1597.6 1142.4,1585.3 1147.3,1602.5 1157.1,1604.9 1164.5,1607.4 1169.4,1614.7 1176.8,1607.4 1181.7,1614.7 1189.0,1609.8 1196.4,1614.7 1206.2,1614.7 1211.1,1627.0 1214.8,1614.7 1219.7,1644.2 1230.8,1644.2 1235.7,1656.5 1239.4,1663.8 1243.1,1639.3 1248.0,1658.9 1255.3,1671.2 1265.2,1673.7 1268.8,1685.9 1275.0,1695.8 1284.8,1698.2 1289.7,1705.6 1299.5,1708.0 1305.7,1712.9 1311.8,1705.6 1319.2,1708.0 1343.7,1706.8 1351.1,1716.6 1360.9,1705.6 1378.1,1700.7 1387.9,1711.7 1400.2,1710.5 1407.6,1700.7 1417.4,1708.0 1429.7,1712.9 1436.4,1713.0 1440.2,1720.7 1455.6,1720.7 1463.3,1729.7 1474.8,1736.1 1488.9,1738.6 1494.0,1746.3 1501.7,1756.6 1511.9,1764.3 1518.3,1771.9 1524.8,1774.5 1529.9,1787.3 1537.6,1797.5 1545.2,1802.7 1552.9,1812.9 1560.6,1820.6 1565.7,1833.4 1572.1,1843.6 1577.2,1851.3 1581.1,1864.1 1586.2,1879.5 1593.9,1889.7 1599.0,1902.5 1609.3,1915.3 1619.5,1925.6 1629.7,1940.9 1637.4,1953.7 1647.7,1966.5 1657.9,1979.4 1670.7,1988.3 1681.0,1994.7 1698.9,1999.8 1711.7,2005.0' fill='none' stroke='#00ff00' stroke-width='3.6' stroke-linejoin='miter' stroke-miterlimit='2' stroke-linecap='square'/>
<polyline points='1030.7,1652.8 1034.4,1636.8 1036.8,1617.2 1041.7,1597.6 1046.6,1580.4 1050.3,1568.1 1054.0,1553.4 1058.9,1543.5 1062.6,1516.5 1067.5,1509.2 1072.4,1499.4 1074.9,1472.3 1078.6,1450.2 1082.2,1445.3 1083.5,1420.8 1087.2,1398.7 1090.8,1411.0 1094.5,1438.0 1098.2,1403.6 1099.4,1379.0 1103.1,1393.8 1105.6,1433.1 1110.5,1415.9 1112.9,1406.0 1120.3,1401.1 1124.0,1393.8 1127.7,1381.5 1130.1,1366.8 1133.8,1361.9 1136.3,1350.8 1139.9,1352.0 1142.4,1366.8 1146.1,1381.5 1158.4,1384.0 1162.0,1403.6 1167.0,1418.3 1169.4,1433.1 1174.3,1425.7 1179.2,1423.2 1184.1,1445.3 1189.0,1450.2 1194.0,1457.6 1196.4,1474.8 1203.8,1474.8 1208.7,1482.2 1211.1,1504.3 1216.1,1509.2 1216.1,1519.0 1223.4,1504.3 1230.8,1499.4 1233.2,1511.6 1240.6,1516.5 1248.0,1509.2 1252.9,1523.9 1256.6,1526.4 1262.7,1506.7 1265.2,1504.3 1270.1,1516.5 1282.4,1509.2 1294.6,1509.2 1299.5,1521.4 1306.9,1521.4 1311.8,1511.6 1319.2,1506.7 1324.1,1509.2 1329.0,1516.5 1333.9,1509.2 1343.7,1509.2 1348.6,1506.7 1353.5,1499.4 1358.5,1511.6 1365.8,1506.7 1370.7,1501.8 1375.6,1496.9 1383.0,1494.5 1387.9,1499.4 1392.8,1494.5 1397.7,1506.7 1402.7,1511.6 1407.6,1516.5 1414.9,1516.5 1419.8,1528.8 1427.2,1541.1 1432.1,1548.5 1435.1,1549.1 1440.2,1556.8 1444.1,1569.6 1450.5,1574.7 1454.3,1587.6 1460.7,1590.1 1464.6,1605.5 1469.7,1615.7 1473.5,1626.0 1478.7,1636.2 1483.8,1646.5 1488.9,1659.3 1494.0,1672.1 1497.9,1687.4 1503.0,1700.2 1506.8,1715.6 1511.9,1725.8 1515.8,1743.8 1519.6,1759.1 1524.8,1769.4 1528.6,1789.9 1532.4,1802.7 1537.6,1818.0 1541.4,1836.0 1546.5,1846.2 1552.9,1859.0 1558.0,1871.8 1563.2,1884.6 1569.6,1900.0 1574.7,1915.3 1579.8,1930.7 1586.2,1940.9 1592.6,1953.7 1599.0,1969.1 1606.7,1976.8 1614.4,1984.5 1624.6,1988.3 1632.3,1992.2 1642.5,1997.3 1655.3,2001.1' fill='none' stroke='#ff0000' stroke-width='3.6' stroke-linejoin='miter' stroke-miterlimit='2' stroke-linecap='square'/>
<polyline points='1030.7,1617.2 1033.1,1587.7 1038.1,1558.3 1043.0,1550.9 1050.3,1543.5 1054.0,1516.5 1058.9,1496.9 1062.6,1482.2 1067.5,1465.0 1071.2,1440.4 1074.9,1401.1 1078.6,1391.3 1083.5,1376.6 1087.2,1361.9 1090.8,1334.9 1094.5,1326.3 1098.2,1354.5 1103.1,1352.0 1106.8,1329.9 1110.5,1317.7 1114.2,1342.2 1119.1,1344.7 1122.8,1320.1 1126.4,1305.4 1130.1,1337.3 1133.8,1320.1 1142.4,1320.1 1147.3,1327.5 1151.0,1337.3 1152.2,1374.1 1157.1,1381.5 1159.6,1406.0 1163.3,1425.7 1168.2,1440.4 1173.1,1455.2 1179.2,1467.4 1182.9,1489.5 1187.8,1504.3 1194.0,1506.7 1196.4,1500.6 1200.1,1523.9 1206.2,1531.3 1216.1,1538.6 1222.2,1533.7 1224.6,1516.5 1233.2,1514.1 1239.4,1526.4 1243.1,1499.4 1248.0,1489.5 1252.9,1479.7 1257.8,1472.3 1263.9,1462.5 1267.6,1455.2 1275.0,1457.6 1281.1,1442.9 1284.8,1455.2 1292.2,1465.0 1298.3,1465.0 1304.4,1457.6 1311.8,1469.9 1316.7,1462.5 1324.1,1465.0 1332.7,1468.7 1338.8,1474.8 1343.7,1484.6 1353.5,1489.5 1358.5,1496.9 1363.4,1492.0 1368.3,1499.4 1372.0,1509.2 1378.1,1516.5 1383.0,1519.0 1386.7,1528.8 1391.6,1541.1 1397.7,1548.5 1403.9,1555.8 1406.3,1565.6 1412.5,1573.0 1416.2,1587.7 1419.8,1602.5 1424.8,1617.2 1430.0,1628.5 1432.6,1633.6 1433.8,1649.0 1437.7,1659.3 1441.5,1677.2 1446.6,1687.4 1453.0,1700.2 1455.6,1711.8 1460.7,1715.6 1468.4,1731.0 1474.8,1743.8 1481.2,1754.0 1485.1,1771.9 1488.9,1789.9 1494.0,1805.2 1497.9,1820.6 1504.3,1833.4 1506.8,1851.3 1511.9,1864.1 1517.1,1882.0 1522.2,1900.0 1527.3,1917.9 1532.4,1938.4 1537.6,1948.6 1542.7,1961.4 1549.1,1974.2 1555.5,1981.9 1569.6,1993.4' fill='none' stroke='#000000' stroke-width='3.6' stroke-linejoin='miter' stroke-miterlimit='2' stroke-linecap='square'/>
<g style='mix-blend-mode:multiply'>
<line x1='275' y1='191' x2='275' y2='935' stroke='#d6d6d6' stroke-width='4'/><line x1='275' y1='191' x2='275' y2='935' stroke='#6e6e6e' stroke-width='4' stroke-dasharray='4 4'/><line x1='279' y1='191' x2='279' y2='935' stroke='#ececec' stroke-width='4'/><line x1='279' y1='191' x2='279' y2='935' stroke='#cfcfcf' stroke-width='4' stroke-dasharray='4 4'/>
<line x1='487.5' y1='199' x2='487.5' y2='946' stroke='#d6d6d6' stroke-width='4'/><line x1='487.5' y1='199' x2='487.5' y2='946' stroke='#6e6e6e' stroke-width='4' stroke-dasharray='4 4'/><line x1='491.5' y1='199' x2='491.5' y2='946' stroke='#ececec' stroke-width='4'/><line x1='491.5' y1='199' x2='491.5' y2='946' stroke='#cfcfcf' stroke-width='4' stroke-dasharray='4 4'/>
<line x1='1139' y1='196' x2='1139' y2='939' stroke='#222' stroke-width='4' stroke-dasharray='19 9'/><line x1='1143' y1='196' x2='1143' y2='939' stroke='#c4c4c4' stroke-width='4' stroke-dasharray='19 9'/>
<line x1='279' y1='1265' x2='279' y2='2004' stroke='#222' stroke-width='4' stroke-dasharray='19 9'/><line x1='283' y1='1265' x2='283' y2='2004' stroke='#c4c4c4' stroke-width='4' stroke-dasharray='19 9'/>
<line x1='495' y1='1272' x2='495' y2='2016' stroke='#222' stroke-width='4' stroke-dasharray='19 9'/><line x1='499' y1='1272' x2='499' y2='2016' stroke='#c4c4c4' stroke-width='4' stroke-dasharray='19 9'/>
<line x1='1138' y1='1264' x2='1138' y2='2008' stroke='#222' stroke-width='4' stroke-dasharray='19 9'/><line x1='1142' y1='1264' x2='1142' y2='2008' stroke='#c4c4c4' stroke-width='4' stroke-dasharray='19 9'/>
</g>
<rect x='679' y='291.7' width='117' height='4.0' fill='#000000'/>
<rect x='683' y='1432.8' width='117' height='4.0' fill='#000000'/>
<rect x='679' y='372.3' width='117' height='4.0' fill='#ff0000'/>
<rect x='683' y='1517.6' width='117' height='4.0' fill='#ff0000'/>
<rect x='679' y='456.8' width='117' height='4.0' fill='#00ff00'/>
<rect x='683' y='1597.7' width='117' height='4.0' fill='#00ff00'/>
<rect x='679' y='537.0' width='117' height='4.0' fill='#0000ff'/>
<rect x='683' y='1678.3' width='117' height='4.0' fill='#0000ff'/>
<rect x='679' y='617.1' width='117' height='4.0' fill='#00ffff'/>
<rect x='683' y='1758.8' width='117' height='4.0' fill='#00ffff'/>
<rect x='128' y='123' width='865' height='4' fill='#000'/>
<rect x='128' y='123' width='4' height='816' fill='#000'/>
<rect x='128' y='935' width='865' height='4' fill='#000'/>
<rect x='989' y='123' width='4' height='816' fill='#000'/>
<rect x='992' y='123' width='877' height='4' fill='#000'/>
<rect x='992' y='123' width='4' height='820' fill='#000'/>
<rect x='992' y='939' width='877' height='4' fill='#000'/>
<rect x='1865' y='123' width='4' height='820' fill='#000'/>
<rect x='128' y='1188' width='869' height='4' fill='#000'/>
<rect x='128' y='1188' width='4' height='820' fill='#000'/>
<rect x='128' y='2004' width='869' height='4' fill='#000'/>
<rect x='993' y='1188' width='4' height='820' fill='#000'/>
<rect x='1000' y='1188' width='869' height='4' fill='#000'/>
<rect x='1000' y='1188' width='4' height='824' fill='#000'/>
<rect x='1000' y='2008' width='869' height='4' fill='#000'/>
<rect x='1865' y='1188' width='4' height='824' fill='#000'/>
<rect x='192.2' y='939' width='4.0' height='4' fill='#000'/><rect x='256.5' y='939' width='4.0' height='12' fill='#000'/><rect x='320.8' y='939' width='4.0' height='4' fill='#000'/><rect x='388.5' y='939' width='4.0' height='12' fill='#000'/><rect x='453.6' y='939' width='4.0' height='4' fill='#000'/><rect x='518.6' y='939' width='4.0' height='12' fill='#000'/><rect x='583.5' y='939' width='4.0' height='4' fill='#000'/><rect x='649.9' y='939' width='4.0' height='12' fill='#000'/><rect x='714.5' y='939' width='4.0' height='4' fill='#000'/><rect x='780' y='939' width='4' height='12' fill='#000'/><rect x='846.6' y='939' width='4.0' height='4' fill='#000'/><rect x='912.2' y='939' width='4.0' height='12' fill='#000'/><rect x='976' y='939' width='4' height='4' fill='#000'/>
<rect x='992' y='943' width='4' height='12' fill='#000'/><rect x='1056.8' y='943' width='4.0' height='4' fill='#000'/><rect x='1124.3' y='943' width='4.0' height='12' fill='#000'/><rect x='1189.4' y='943' width='4.0' height='4' fill='#000'/><rect x='1256.8' y='943' width='4.0' height='12' fill='#000'/><rect x='1322' y='943' width='4' height='4' fill='#000'/><rect x='1387' y='943' width='4' height='12' fill='#000'/><rect x='1454.6' y='943' width='4.0' height='4' fill='#000'/><rect x='1518.6' y='943' width='4.0' height='12' fill='#000'/><rect x='1587.2' y='943' width='4.0' height='4' fill='#000'/><rect x='1652' y='943' width='4' height='12' fill='#000'/><rect x='1720' y='943' width='4' height='4' fill='#000'/><rect x='1784.4' y='943' width='4.0' height='12' fill='#000'/><rect x='1853' y='943' width='4' height='8' fill='#000'/>
<rect x='128.1' y='2008' width='4.0' height='15.599999999999909' fill='#000'/><rect x='196.4' y='2008' width='4.0' height='4' fill='#000'/><rect x='260.2' y='2008' width='4.0' height='12' fill='#000'/><rect x='325' y='2008' width='4' height='4' fill='#000'/><rect x='389.3' y='2008' width='4.0' height='12' fill='#000'/><rect x='457' y='2008' width='4' height='4' fill='#000'/><rect x='521.4' y='2008' width='4.0' height='12' fill='#000'/><rect x='586' y='2008' width='4' height='4' fill='#000'/><rect x='654' y='2008' width='4' height='12' fill='#000'/><rect x='719' y='2008' width='4' height='4' fill='#000'/><rect x='783.6' y='2008' width='4.0' height='12' fill='#000'/><rect x='848' y='2008' width='4' height='4' fill='#000'/><rect x='916.3' y='2008' width='4.0' height='12' fill='#000'/><rect x='980.2' y='2008' width='4.0' height='4' fill='#000'/>
<rect x='1000.5' y='2012' width='4.0' height='12' fill='#000'/><rect x='1065.5' y='2012' width='4.0' height='4' fill='#000'/><rect x='1129' y='2012' width='4' height='12' fill='#000'/><rect x='1197.8' y='2012' width='4.0' height='4' fill='#000'/><rect x='1260.8' y='2012' width='4.0' height='12' fill='#000'/><rect x='1325.3' y='2012' width='4.0' height='4' fill='#000'/><rect x='1394.2' y='2012' width='4.0' height='12' fill='#000'/><rect x='1458.7' y='2012' width='4.0' height='4' fill='#000'/><rect x='1523.3' y='2012' width='4.0' height='12' fill='#000'/><rect x='1591.6' y='2012' width='4.0' height='4' fill='#000'/><rect x='1655' y='2012' width='4' height='12' fill='#000'/><rect x='1720.7' y='2012' width='4.0' height='4' fill='#000'/><rect x='1784.2' y='2012' width='4.0' height='12' fill='#000'/><rect x='1854.1' y='2012' width='4.0' height='4' fill='#000'/>
<text x='0' y='0' transform='translate(139.00,183) scale(0.7488,1)' font-family="'Liberation Sans', Arial, sans-serif" font-weight='normal' font-size='69.5'>WS<tspan font-size='0.56em' dy='19'>2</tspan><tspan dy='-19'>-</tspan><tspan font-style='italic'>m</tspan>QDs-<tspan font-style='italic'>S</tspan> (protonation)</text>
<text x='0' y='0' transform='translate(1012.70,195.3) scale(0.7511,1)' font-family="'Liberation Sans', Arial, sans-serif" font-weight='normal' font-size='69.5'>WS<tspan font-size='0.56em' dy='19'>2</tspan><tspan dy='-19'>-</tspan><tspan font-style='italic'>m</tspan>QDs-<tspan font-style='italic'>S</tspan> (oxidation)</text>
<text x='0' y='0' transform='translate(149.40,1255.5) scale(0.7470,1)' font-family="'Liberation Sans', Arial, sans-serif" font-weight='normal' font-size='69.5'>WSe<tspan font-size='0.56em' dy='19'>2</tspan><tspan dy='-19'>-</tspan><tspan font-style='italic'>m</tspan>QDs-<tspan font-style='italic'>S</tspan> (protonation)</text>
<text x='0' y='0' transform='translate(1033.60,1256) scale(0.7517,1)' font-family="'Liberation Sans', Arial, sans-serif" font-weight='normal' font-size='69.5'>WSe<tspan font-size='0.56em' dy='19'>2</tspan><tspan dy='-19'>-</tspan><tspan font-style='italic'>m</tspan>QDs-<tspan font-style='italic'>S</tspan> (oxidation)</text>
<text x='0' y='0' transform='translate(806.81,207) scale(0.8948,1)' font-family="'Liberation Sans', Arial, sans-serif" font-weight='bold' font-size='74'><tspan font-weight='normal'>λ</tspan><tspan font-size='0.78em' dy='24.5'>em</tspan></text>
<text x='0' y='0' transform='translate(810.50,1348.3) scale(0.9009,1)' font-family="'Liberation Sans', Arial, sans-serif" font-weight='bold' font-size='74'><tspan font-weight='normal'>λ</tspan><tspan font-size='0.78em' dy='24.5'>em</tspan></text>
<text x='0' y='0' transform='translate(805.60,315.4) scale(0.7995,1)' font-family="'Liberation Sans', Arial, sans-serif" font-weight='normal' font-size='67'>380 nm</text>
<text x='0' y='0' transform='translate(809.81,1457.1) scale(0.7981,1)' font-family="'Liberation Sans', Arial, sans-serif" font-weight='normal' font-size='67'>380 nm</text>
<text x='0' y='0' transform='translate(807.21,396.0) scale(0.7922,1)' font-family="'Liberation Sans', Arial, sans-serif" font-weight='normal' font-size='67'>420 nm</text>
<text x='0' y='0' transform='translate(811.41,1541.8999999999999) scale(0.7908,1)' font-family="'Liberation Sans', Arial, sans-serif" font-weight='normal' font-size='67'>420 nm</text>
<text x='0' y='0' transform='translate(807.21,480.5) scale(0.7922,1)' font-family="'Liberation Sans', Arial, sans-serif" font-weight='normal' font-size='67'>460 nm</text>
<text x='0' y='0' transform='translate(811.41,1622.0) scale(0.7908,1)' font-family="'Liberation Sans', Arial, sans-serif" font-weight='normal' font-size='67'>460 nm</text>
<text x='0' y='0' transform='translate(805.60,560.7) scale(0.7995,1)' font-family="'Liberation Sans', Arial, sans-serif" font-weight='normal' font-size='67'>500 nm</text>
<text x='0' y='0' transform='translate(809.81,1702.6) scale(0.7981,1)' font-family="'Liberation Sans', Arial, sans-serif" font-weight='normal' font-size='67'>500 nm</text>
<text x='0' y='0' transform='translate(805.60,640.8000000000001) scale(0.7995,1)' font-family="'Liberation Sans', Arial, sans-serif" font-weight='normal' font-size='67'>540 nm</text>
<text x='0' y='0' transform='translate(809.81,1783.1) scale(0.7981,1)' font-family="'Liberation Sans', Arial, sans-serif" font-weight='normal' font-size='67'>540 nm</text>
<text x='0' y='0' transform='translate(218.97,1014) scale(0.8093,1)' font-family="'Liberation Sans', Arial, sans-serif" font-weight='normal' font-size='66'>5.0</text>
<text x='0' y='0' transform='translate(351.21,1014) scale(0.7909,1)' font-family="'Liberation Sans', Arial, sans-serif" font-weight='normal' font-size='66'>4.5</text>
<text x='0' y='0' transform='translate(482.91,1014) scale(0.7909,1)' font-family="'Liberation Sans', Arial, sans-serif" font-weight='normal' font-size='66'>4.0</text>
<text x='0' y='0' transform='translate(614.07,1014) scale(0.8093,1)' font-family="'Liberation Sans', Arial, sans-serif" font-weight='normal' font-size='66'>3.5</text>
<text x='0' y='0' transform='translate(741.37,1014) scale(0.8093,1)' font-family="'Liberation Sans', Arial, sans-serif" font-weight='normal' font-size='66'>3.0</text>
<text x='0' y='0' transform='translate(874.17,1014) scale(0.8093,1)' font-family="'Liberation Sans', Arial, sans-serif" font-weight='normal' font-size='66'>2.5</text>
<text x='0' y='0' transform='translate(955.27,1019) scale(0.8093,1)' font-family="'Liberation Sans', Arial, sans-serif" font-weight='normal' font-size='66'>5.5</text>
<text x='0' y='0' transform='translate(1087.87,1019) scale(0.8093,1)' font-family="'Liberation Sans', Arial, sans-serif" font-weight='normal' font-size='66'>5.0</text>
<text x='0' y='0' transform='translate(1220.21,1019) scale(0.7909,1)' font-family="'Liberation Sans', Arial, sans-serif" font-weight='normal' font-size='66'>4.5</text>
<text x='0' y='0' transform='translate(1352.41,1019) scale(0.7909,1)' font-family="'Liberation Sans', Arial, sans-serif" font-weight='normal' font-size='66'>4.0</text>
<text x='0' y='0' transform='translate(1482.27,1019) scale(0.8093,1)' font-family="'Liberation Sans', Arial, sans-serif" font-weight='normal' font-size='66'>3.5</text>
<text x='0' y='0' transform='translate(1613.77,1019) scale(0.8093,1)' font-family="'Liberation Sans', Arial, sans-serif" font-weight='normal' font-size='66'>3.0</text>
<text x='0' y='0' transform='translate(1747.27,1019) scale(0.8093,1)' font-family="'Liberation Sans', Arial, sans-serif" font-weight='normal' font-size='66'>2.5</text>
<text x='0' y='0' transform='translate(92.77,2083.5) scale(0.8093,1)' font-family="'Liberation Sans', Arial, sans-serif" font-weight='normal' font-size='66'>5.5</text>
<text x='0' y='0' transform='translate(222.27,2083.5) scale(0.8093,1)' font-family="'Liberation Sans', Arial, sans-serif" font-weight='normal' font-size='66'>5.0</text>
<text x='0' y='0' transform='translate(354.41,2083.5) scale(0.7909,1)' font-family="'Liberation Sans', Arial, sans-serif" font-weight='normal' font-size='66'>4.5</text>
<text x='0' y='0' transform='translate(485.21,2083.5) scale(0.7909,1)' font-family="'Liberation Sans', Arial, sans-serif" font-weight='normal' font-size='66'>4.0</text>
<text x='0' y='0' transform='translate(615.47,2083.5) scale(0.8093,1)' font-family="'Liberation Sans', Arial, sans-serif" font-weight='normal' font-size='66'>3.5</text>
<text x='0' y='0' transform='translate(744.97,2083.5) scale(0.8093,1)' font-family="'Liberation Sans', Arial, sans-serif" font-weight='normal' font-size='66'>3.0</text>
<text x='0' y='0' transform='translate(877.27,2083.5) scale(0.8093,1)' font-family="'Liberation Sans', Arial, sans-serif" font-weight='normal' font-size='66'>2.5</text>
<text x='0' y='0' transform='translate(961.17,2091.5) scale(0.8093,1)' font-family="'Liberation Sans', Arial, sans-serif" font-weight='normal' font-size='66'>5.5</text>
<text x='0' y='0' transform='translate(1089.77,2091.5) scale(0.8093,1)' font-family="'Liberation Sans', Arial, sans-serif" font-weight='normal' font-size='66'>5.0</text>
<text x='0' y='0' transform='translate(1223.41,2091.5) scale(0.7909,1)' font-family="'Liberation Sans', Arial, sans-serif" font-weight='normal' font-size='66'>4.5</text>
<text x='0' y='0' transform='translate(1356.41,2091.5) scale(0.7909,1)' font-family="'Liberation Sans', Arial, sans-serif" font-weight='normal' font-size='66'>4.0</text>
<text x='0' y='0' transform='translate(1486.47,2091.5) scale(0.8093,1)' font-family="'Liberation Sans', Arial, sans-serif" font-weight='normal' font-size='66'>3.5</text>
<text x='0' y='0' transform='translate(1615.77,2091.5) scale(0.8093,1)' font-family="'Liberation Sans', Arial, sans-serif" font-weight='normal' font-size='66'>3.0</text>
<text x='0' y='0' transform='translate(1746.27,2091.5) scale(0.8093,1)' font-family="'Liberation Sans', Arial, sans-serif" font-weight='normal' font-size='66'>2.5</text>
<text x='27.60' y='0' transform='translate(0,91.5) scale(0.92,1)' font-family="'Liberation Sans', Arial, sans-serif" font-weight='bold' font-size='90'>(<tspan x='62.74' dy='3.0' font-size='80'>a</tspan><tspan x='114.17' dy='-3.0'>)</tspan></text>
<text x='28.28' y='0' transform='translate(0,1157.3) scale(0.92,1)' font-family="'Liberation Sans', Arial, sans-serif" font-weight='bold' font-size='91'>(<tspan x='61.71' dy='1.5' font-size='86.6'>b</tspan><tspan x='119.90' dy='-1.5'>)</tspan></text>
<text x='398.77 453.19 493.56 529.82 548.18 573.02 614.84 636.21 656.58 697.15 735.94 766.35 802.98 851.08 887.28 913.93 958.65 993.97 1014.68 1044.41 1082.43 1127.64' y='0' transform='translate(0,1079.5) scale(0.72,1)' font-family="'Liberation Sans', Arial, sans-serif" font-weight='bold' font-size='63.5' xml:space='preserve'>Excitation energy (eV)</text>
<text x='1599.19 1653.61 1694.25 1729.96 1754.43 1774.96 1815.12 1841.77 1858.66 1902.98 1941.77 1971.91 2009.09 2055.66 2093.25 2120.59 2164.49 2199.80 2226.49 2251.49 2295.35 2341.12' y='0' transform='translate(0,1087.2) scale(0.72,1)' font-family="'Liberation Sans', Arial, sans-serif" font-weight='bold' font-size='63.5' xml:space='preserve'>Excitation energy (eV)</text>
<text x='333.87 387.45 424.26 468.15 482.57 509.72 553.11 579.10 596.49 641.22 683.37 706.32 749.60 795.91 832.79 862.79 905.73 944.10 964.53 995.10 1034.15 1081.82' y='0' transform='translate(0,2148.4) scale(0.74,1)' font-family="'Liberation Sans', Arial, sans-serif" font-weight='bold' font-size='69' xml:space='preserve'>Excitation energy (eV)</text>
<text x='1545.49 1598.53 1639.12 1681.39 1700.67 1724.72 1766.35 1795.04 1812.03 1859.47 1901.61 1922.94 1961.36 2009.97 2045.63 2075.76 2122.89 2161.27 2181.56 2212.13 2250.64 2296.55' y='0' transform='translate(0,2160) scale(0.74,1)' font-family="'Liberation Sans', Arial, sans-serif" font-weight='bold' font-size='69' xml:space='preserve'>Excitation energy (eV)</text>
<text x='-1299.65 -1229.13 -1167.76 -1121.07 -1074.69 -1042.61 -980.87 -948.85 -885.73 -823.64 -767.19 -739.78 -704.55 -665.62 -625.86 -585.71 -528.44 -508.99 -471.24 -408.13 -377.92' y='0' transform='translate(103.8,0) rotate(-90) scale(0.64,1)' font-family="'Liberation Sans', Arial, sans-serif" font-weight='bold' font-size='70' xml:space='preserve'>PLE intensity (a. u.)</text>
<text x='-2905.25 -2830.22 -2770.99 -2724.30 -2668.78 -2634.39 -2575.29 -2539.64 -2476.06 -2417.59 -2358.63 -2328.32 -2297.58 -2258.65 -2208.82 -2170.56 -2114.24 -2094.79 -2049.73 -1992.57 -1961.16' y='0' transform='translate(96.2,0) rotate(-90) scale(0.66,1)' font-family="'Liberation Sans', Arial, sans-serif" font-weight='bold' font-size='70' xml:space='preserve'>PLE intensity (a. u.)</text>
</svg></body></html>
